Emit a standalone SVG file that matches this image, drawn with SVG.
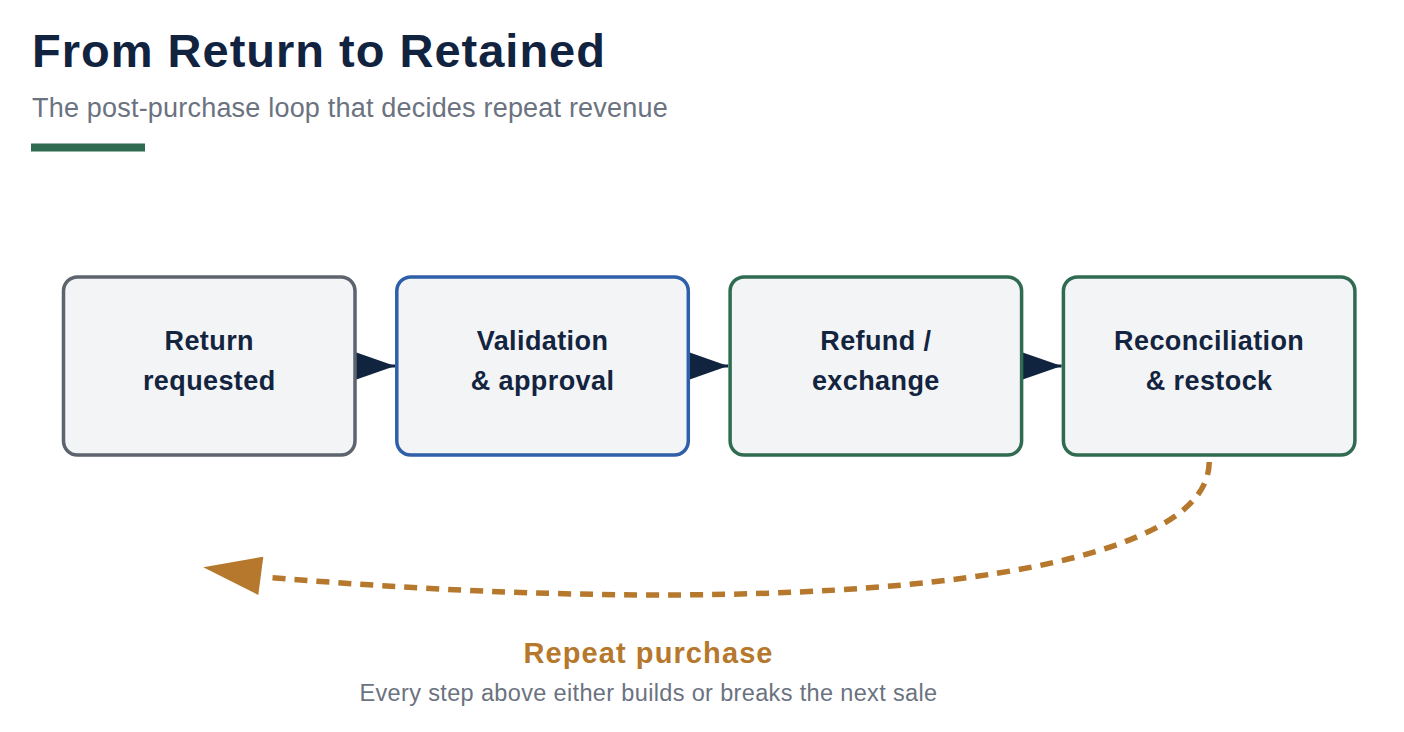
<svg xmlns="http://www.w3.org/2000/svg" width="1404" height="732" viewBox="0 0 1404 732">
  <style>
    .title { font-family: "Liberation Sans", Arial, sans-serif; font-weight: 700; font-size: 47px; letter-spacing: 1px; fill: #11233f; }
    .subtitle { font-family: "Liberation Sans", Arial, sans-serif; font-size: 27px; letter-spacing: 0.2px; fill: #6b7280; }
    .box { fill: #f3f4f6; stroke-width: 3.5; }
    .label { font-family: "Liberation Sans", Arial, sans-serif; font-weight: 700; font-size: 27px; letter-spacing: 0.4px; fill: #13243f; text-anchor: middle; }
    .flow { stroke: #10233f; stroke-width: 3; fill: none; }
    .loop { stroke: #b5782c; stroke-width: 5.5; fill: none; stroke-dasharray: 13 9; }
    .loop-title { font-family: "Liberation Sans", Arial, sans-serif; font-weight: 700; font-size: 29px; letter-spacing: 1.1px; fill: #b5782c; text-anchor: middle; }
    .loop-sub { font-family: "Liberation Sans", Arial, sans-serif; font-size: 23.5px; letter-spacing: 0.35px; fill: #6b7280; text-anchor: middle; }
  </style>
  <defs>
    <marker id="tri" markerUnits="userSpaceOnUse" markerWidth="40" markerHeight="28" refX="40" refY="14" orient="auto">
      <path d="M0,0 L40,14 L0,28 Z" fill="#10233f"/>
    </marker>
  </defs>
  <rect width="1404" height="732" fill="#ffffff"/>

  <g id="header">
    <text class="title" x="32" y="67">From Return to Retained</text>
    <text class="subtitle" x="32" y="117">The post-purchase loop that decides repeat revenue</text>
    <rect x="31" y="143.5" width="114" height="8" fill="#2e6b50"/>
  </g>

  <g id="connectors">
    <line class="flow" x1="352" y1="366" x2="395" y2="366" marker-end="url(#tri)"/>
    <line class="flow" x1="685" y1="366" x2="728.3" y2="366" marker-end="url(#tri)"/>
    <line class="flow" x1="1018" y1="366" x2="1061.6" y2="366" marker-end="url(#tri)"/>
    <path class="loop" d="M1209.2,462 C1209,582 800,622 264,577"/>
    <polygon points="203.3,567.3 263.3,556.7 258.3,595" fill="#b5782c"/>
  </g>

  <g id="node-return">
    <rect class="box" x="63.5" y="277" width="291.5" height="178" rx="14" stroke="#5d646e"/>
    <text class="label" x="209.25" y="350">Return</text>
    <text class="label" x="209.25" y="389.5">requested</text>
  </g>
  <g id="node-validation">
    <rect class="box" x="396.8" y="277" width="291.5" height="178" rx="14" stroke="#2f5fa8"/>
    <text class="label" x="542.55" y="350">Validation</text>
    <text class="label" x="542.55" y="389.5">&amp; approval</text>
  </g>
  <g id="node-refund">
    <rect class="box" x="730.1" y="277" width="291.5" height="178" rx="14" stroke="#2e6b50"/>
    <text class="label" x="875.85" y="350">Refund /</text>
    <text class="label" x="875.85" y="389.5">exchange</text>
  </g>
  <g id="node-reconciliation">
    <rect class="box" x="1063.4" y="277" width="291.5" height="178" rx="14" stroke="#2e6b50"/>
    <text class="label" x="1209.15" y="350">Reconciliation</text>
    <text class="label" x="1209.15" y="389.5">&amp; restock</text>
  </g>

  <g id="loop-label">
    <text class="loop-title" x="648.5" y="663.3">Repeat purchase</text>
    <text class="loop-sub" x="648.5" y="701">Every step above either builds or breaks the next sale</text>
  </g>
</svg>
